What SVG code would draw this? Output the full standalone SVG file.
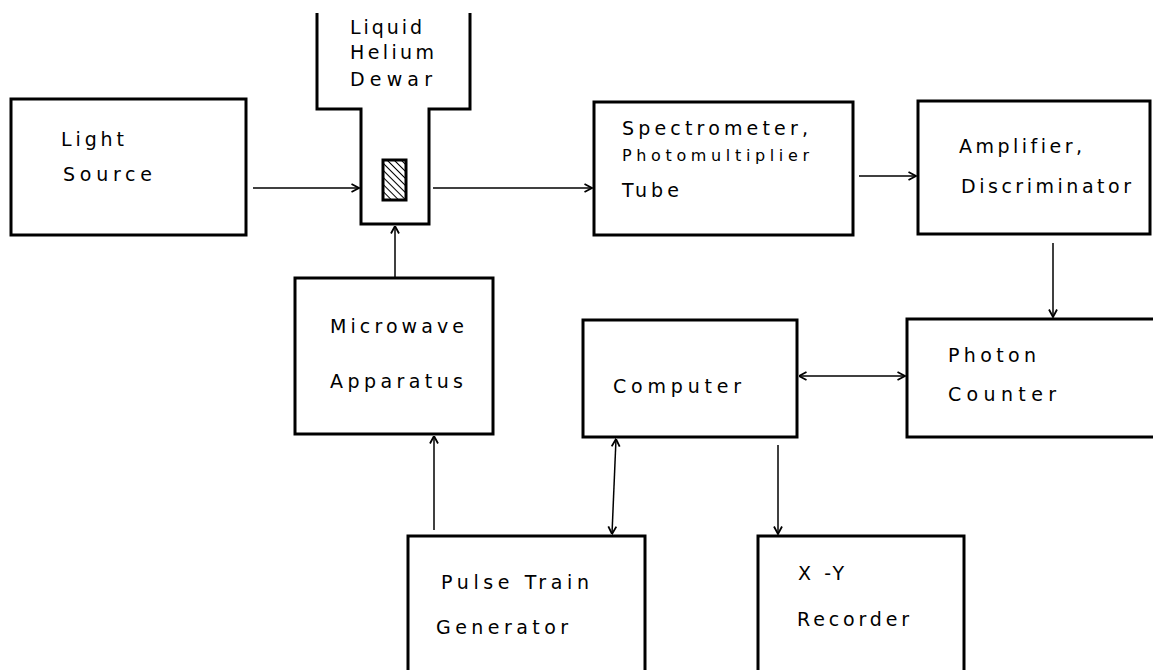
<svg xmlns="http://www.w3.org/2000/svg" width="1153" height="670" viewBox="0 0 1153 670">
<style>
.box{fill:#fff;stroke:#000;stroke-width:3}
.lbl{font-family:"DejaVu Sans","Liberation Sans",Arial,sans-serif;font-size:19px;fill:#000;letter-spacing:3px}
.sm{font-size:16px;letter-spacing:1px}
.con{fill:none;stroke:#000;stroke-width:1.5}
</style>
<defs>
<marker id="ah" viewBox="0 0 10 10" refX="9.5" refY="5" markerWidth="10" markerHeight="10" markerUnits="userSpaceOnUse" orient="auto-start-reverse">
<path d="M2,1 L9.5,5 L2,9" fill="none" stroke="#000" stroke-width="1.8"/>
</marker>
<pattern id="hatch" patternUnits="userSpaceOnUse" width="5" height="5" patternTransform="rotate(-45)">
<rect width="5" height="5" fill="#fff"/>
<line x1="0" y1="0" x2="0" y2="5" stroke="#000" stroke-width="2"/>
</pattern>
</defs>
<rect width="1153" height="670" fill="#fff"/>

<g id="light-source">
<rect class="box" x="11" y="99" width="235" height="136"/>
<text class="lbl" x="61" y="146" textLength="66" lengthAdjust="spacing">Light</text>
<text class="lbl" x="63" y="181" textLength="92" lengthAdjust="spacing">Source</text>
</g>

<g id="dewar">
<path d="M317,13 V109 H361 V224 H429 V109 H470 V13" fill="none" stroke="#000" stroke-width="3"/>
<text class="lbl" x="350" y="34" textLength="75" lengthAdjust="spacing">Liquid</text>
<text class="lbl" x="350" y="59" textLength="87" lengthAdjust="spacing">Helium</text>
<text class="lbl" x="350" y="86" textLength="85" lengthAdjust="spacing">Dewar</text>
<rect x="383" y="160" width="23" height="40" fill="url(#hatch)" stroke="#000" stroke-width="3"/>
</g>

<g id="spectrometer">
<rect class="box" x="594" y="102" width="259" height="133"/>
<text class="lbl" x="622" y="135" textLength="189" lengthAdjust="spacing">Spectrometer,</text>
<text class="lbl sm" x="622" y="161" textLength="188" lengthAdjust="spacing">Photomultiplier</text>
<text class="lbl" x="622" y="197" textLength="60" lengthAdjust="spacing">Tube</text>
</g>

<g id="amplifier">
<rect class="box" x="918" y="101" width="232" height="133"/>
<text class="lbl" x="959" y="153" textLength="126" lengthAdjust="spacing">Amplifier,</text>
<text class="lbl" x="961" y="193" textLength="173" lengthAdjust="spacing">Discriminator</text>
</g>

<g id="microwave">
<rect class="box" x="295" y="278" width="198" height="156"/>
<text class="lbl" x="330" y="333" textLength="137" lengthAdjust="spacing">Microwave</text>
<text class="lbl" x="330" y="388" textLength="136" lengthAdjust="spacing">Apparatus</text>
</g>

<g id="computer">
<rect class="box" x="583" y="320" width="214" height="117"/>
<text class="lbl" x="613" y="393" textLength="131" lengthAdjust="spacing">Computer</text>
</g>

<g id="photon-counter">
<rect class="box" x="907" y="319" width="260" height="118"/>
<text class="lbl" x="948" y="362" textLength="91" lengthAdjust="spacing">Photon</text>
<text class="lbl" x="948" y="401" textLength="111" lengthAdjust="spacing">Counter</text>
</g>

<g id="pulse-train-generator">
<rect class="box" x="408" y="536" width="237" height="150"/>
<text class="lbl" x="441" y="589" textLength="151" lengthAdjust="spacing">Pulse Train</text>
<text class="lbl" x="436" y="634" textLength="135" lengthAdjust="spacing">Generator</text>
</g>

<g id="xy-recorder">
<rect class="box" x="758" y="536" width="206" height="150"/>
<text class="lbl" x="798" y="580" textLength="49" lengthAdjust="spacing">X -Y</text>
<text class="lbl" x="797" y="626" textLength="115" lengthAdjust="spacing">Recorder</text>
</g>

<g id="connectors">
<path class="con" d="M253,188 H359" marker-end="url(#ah)"/>
<path class="con" d="M433,188 H592" marker-end="url(#ah)"/>
<path class="con" d="M395,278 V226" marker-end="url(#ah)"/>
<path class="con" d="M859,176 H916" marker-end="url(#ah)"/>
<path class="con" d="M1053,243 V317" marker-end="url(#ah)"/>
<path class="con" d="M799,376 H905" marker-start="url(#ah)" marker-end="url(#ah)"/>
<path class="con" d="M434,530 V436" marker-end="url(#ah)"/>
<path class="con" d="M616,439 L612,534" marker-start="url(#ah)" marker-end="url(#ah)"/>
<path class="con" d="M778,445 V534" marker-end="url(#ah)"/>
</g>
</svg>
